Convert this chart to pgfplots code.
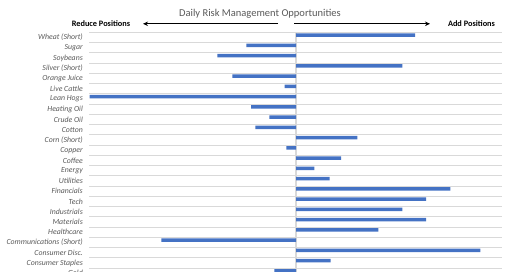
\documentclass[border=0pt]{standalone}
\usepackage{pgfplots}
\pgfplotsset{compat=1.18}
\usepackage{fontspec}
\setmainfont{Carlito}
\usetikzlibrary{arrows.meta}
\definecolor{barblue}{HTML}{4472C4}
\definecolor{labelgray}{HTML}{595959}
\definecolor{gridgray}{HTML}{D9D9D9}
\begin{document}
\begin{tikzpicture}
\useasboundingbox (0,0) rectangle (520pt,-272pt);
\clip (0,0) rectangle (520pt,-272pt);
\begin{axis}[
  at={(89.5pt,-32.3pt)}, anchor=north west,
  scale only axis, width=412.8pt, height=246pt,
  xmin=-206.5, xmax=206.3,
  ymin=0, ymax=24, y dir=reverse,
  axis line style={draw=none},
  xtick=\empty,
  extra x ticks={0}, extra x tick labels={},
  extra x tick style={grid=major, major grid style={draw=gridgray, line width=1.4pt}},
  ytick={0.5,1.5,...,23.5},
  yticklabels={Wheat (Short),Sugar,Soybeans,Silver (Short),Orange Juice,Live Cattle,Lean Hogs,Heating Oil,Crude Oil,Cotton,Corn (Short),Copper,Coffee,Energy,Utilities,Financials,Tech,Industrials,Materials,Healthcare,Communications (Short),Consumer Disc.,Consumer Staples,Gold},
  minor ytick={0,1,...,24},
  yminorgrids,
  minor grid style={draw=gridgray, line width=0.8pt},
  major tick length=0pt, minor tick length=0pt,
  yticklabel style={font=\fontsize{7.8}{9}\selectfont\itshape, text=labelgray, inner sep=0pt, xshift=-6.5pt},
]
\addplot[xbar, bar width=3.5pt, bar shift=0pt, fill=barblue, draw=none] coordinates {
  (119,0.27) (-49.7,1.27) (-78.7,2.27) (106.3,3.27) (-63.7,4.27) (-11.4,5.27)
  (-206.4,6.27) (-45,7.27) (-26.7,8.27) (-40.7,9.27) (61.3,10.27) (-9.7,11.27)
  (45,12.27) (18.3,13.27) (33.6,14.27) (154.3,15.27) (130,16.27) (106.3,17.27)
  (130,18.27) (82.3,19.27) (-134.7,20.27) (184.3,21.27) (34.6,22.27) (-21.7,23.27)
};
\end{axis}
\node[font=\fontsize{10.5}{12}\selectfont, text=labelgray] at (260pt,-14pt) {Daily Risk Management Opportunities};
\node[font=\fontsize{8.3}{10}\selectfont\bfseries, text=black] at (101pt,-23.5pt) {Reduce Positions};
\node[font=\fontsize{8.3}{10}\selectfont\bfseries, text=black] at (471.5pt,-23.5pt) {Add Positions};
\draw[line width=0.9pt, -{Stealth[length=5pt,width=4.5pt]}] (278pt,-23.8pt) -- (143pt,-23.8pt);
\draw[line width=0.9pt, -{Stealth[length=5pt,width=4.5pt]}] (294pt,-23.8pt) -- (430pt,-23.8pt);
\end{tikzpicture}
\end{document}
